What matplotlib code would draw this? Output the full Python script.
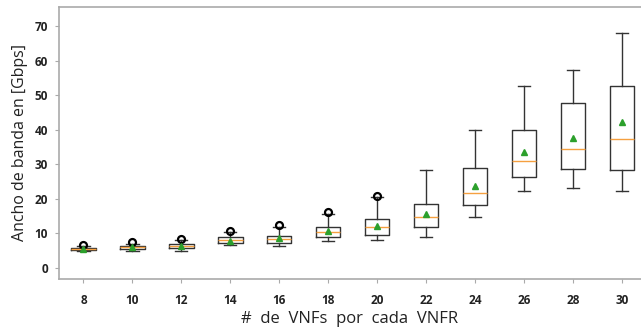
import matplotlib
matplotlib.use("Agg")
import matplotlib.pyplot as plt

categories = ["8", "10", "12", "14", "16", "18", "20", "22", "24", "26", "28", "30"]
whislo = [5.0, 5.0, 5.0, 6.5, 6.2, 7.9, 8.0, 8.9, 14.7, 22.3, 23.1, 22.2]
q1 = [5.2, 5.4, 5.7, 7.3, 7.1, 9.0, 9.6, 11.8, 18.1, 26.4, 28.6, 28.3]
med = [5.5, 6.0, 6.3, 8.1, 8.3, 10.3, 11.8, 14.7, 21.6, 30.9, 34.3, 37.3]
q3 = [5.8, 6.4, 6.9, 8.8, 9.3, 11.8, 14.1, 18.6, 28.9, 39.9, 47.7, 52.5]
whishi = [6.2, 7.0, 8.0, 10.3, 11.7, 15.6, 20.6, 28.3, 39.9, 52.5, 57.3, 67.9]
means = [5.5, 6.0, 6.2, 7.9, 8.6, 10.8, 12.1, 15.7, 23.7, 33.5, 37.5, 42.2]
fliers = [[6.5], [7.4], [8.3], [10.7], [12.3], [16.2], [20.9], [], [], [], [], []]

stats = []
for i in range(len(categories)):
    stats.append(dict(label=categories[i], whislo=whislo[i], q1=q1[i], med=med[i],
                      q3=q3[i], whishi=whishi[i], mean=means[i], fliers=fliers[i]))

fig = plt.figure(figsize=(6.41, 3.32), dpi=100)
ax = fig.add_axes([0.092, 0.160, 0.908, 0.819])

ax.bxp(stats, showmeans=True, widths=0.5,
       boxprops=dict(color="#333333", linewidth=1.0),
       whiskerprops=dict(color="#333333", linewidth=1.0),
       capprops=dict(color="#333333", linewidth=1.0),
       medianprops=dict(color="#f5a040", linewidth=1.0),
       meanprops=dict(marker="^", markerfacecolor="#2ca02c", markeredgecolor="#2ca02c", markersize=5),
       flierprops=dict(marker="o", markerfacecolor="none", markeredgecolor="black",
                       markeredgewidth=1.6, markersize=5))

ax.set_xlim(0.5, 12.39)
ax.set_ylim(-3.2, 75.5)
ax.set_yticks([0, 10, 20, 30, 40, 50, 60, 70])

for s in ["top", "left", "bottom"]:
    ax.spines[s].set_color("#aaaaaa")
    ax.spines[s].set_linewidth(1.2)
ax.spines["right"].set_visible(False)

ax.tick_params(axis="both", colors="#aaaaaa", length=3, labelcolor="#222222", pad=5)
ax.tick_params(axis="x", pad=8)
for lab in ax.get_xticklabels() + ax.get_yticklabels():
    lab.set_fontweight("bold")
    lab.set_fontsize(8.5)
    lab.set_family("Open Sans")

ax.set_ylabel("Ancho de banda en [Gbps]", fontsize=11.5, family="Open Sans", color="#222222", labelpad=5)
ax.set_xlabel("#  de  VNFs  por  cada  VNFR", fontsize=12, family="Open Sans", color="#222222", labelpad=3)

fig.savefig("out.png", dpi=100)
